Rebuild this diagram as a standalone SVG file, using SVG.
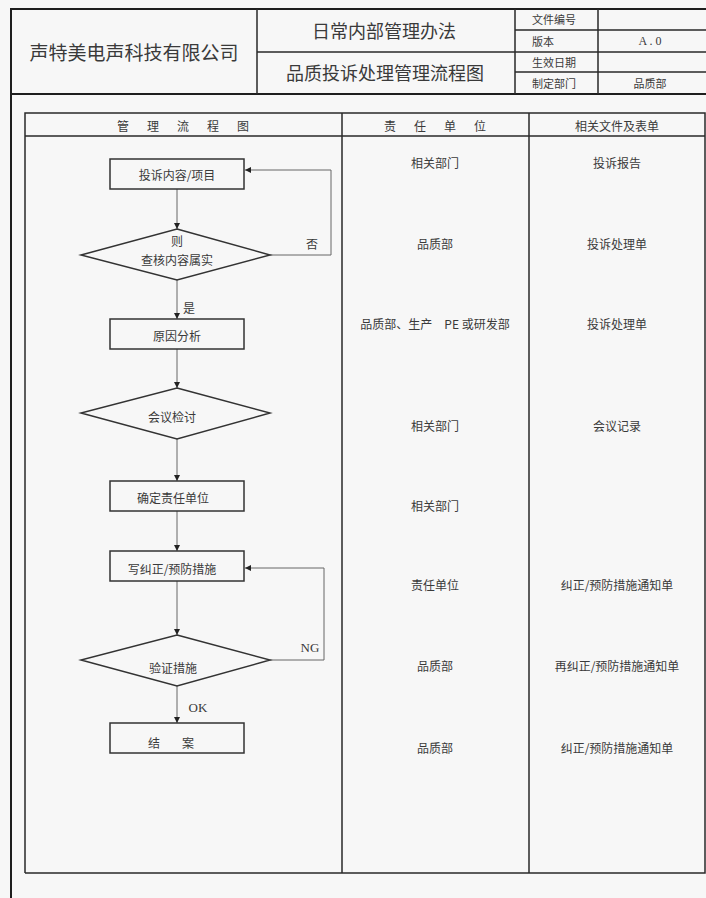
<svg xmlns="http://www.w3.org/2000/svg" width="706" height="898" viewBox="0 0 706 898">
<style>
.cjk{font-family:"Noto Sans CJK SC","Noto Sans",sans-serif;fill:#3a3a3a;text-anchor:middle;dominant-baseline:central}
.lat{font-family:"Liberation Serif","Noto Sans CJK SC",serif;fill:#3a3a3a;text-anchor:middle;dominant-baseline:central}
.frame{fill:none;stroke:#1e1e1e;stroke-width:2}
.grid{fill:none;stroke:#2a2a2a;stroke-width:1.5}
.node{fill:#f7f7f7;stroke:#333;stroke-width:1.5}
.conn{fill:none;stroke:#666;stroke-width:1}
.s12{font-size:12px}
.s11{font-size:11px}
</style>
<defs>
<marker id="ah" viewBox="0 0 10 10" refX="10" refY="5" markerWidth="6" markerHeight="6" orient="auto" markerUnits="userSpaceOnUse">
<path d="M0,0 L10,5 L0,10 z" fill="#222"/>
</marker>
</defs>
<rect x="0" y="0" width="706" height="898" fill="#f7f7f7"/>

<g id="header">
<path class="frame" d="M11,898 V9 H706"/>
<path class="frame" d="M11,94 H706"/>
<path class="grid" d="M257,9 V94 M515,9 V94 M598,9 V94 M257,52 H515 M515,30 H706 M515,52 H706 M515,72 H706"/>
<text class="cjk" x="134" y="51" font-size="19">声特美电声科技有限公司</text>
<text class="cjk" x="384" y="30" font-size="18">日常内部管理办法</text>
<text class="cjk" x="385" y="72" font-size="18">品质投诉处理管理流程图</text>
<text class="cjk s11" x="554" y="19">文件编号</text>
<text class="cjk s11" x="543" y="41">版本</text>
<text class="cjk s11" x="554" y="62">生效日期</text>
<text class="cjk s11" x="554" y="83">制定部门</text>
<text class="lat" x="650" y="41" font-size="12">A . 0</text>
<text class="cjk s11" x="650" y="83">品质部</text>
</g>

<g id="table">
<path class="grid" d="M25,873 V113 H705 V873 H25 M25,136 H705 M342,113 V873 M529,113 V873"/>
<text class="cjk s12" x="192" y="125" letter-spacing="18">管理流程图</text>
<text class="cjk s12" x="444" y="125" letter-spacing="18">责任单位</text>
<text class="cjk s12" x="617" y="125">相关文件及表单</text>
</g>

<g id="connectors">
<line class="conn" x1="177" y1="189" x2="177" y2="229" marker-end="url(#ah)"/>
<polyline class="conn" points="270,255 331,255 331,170 245,170" marker-end="url(#ah)"/>
<line class="conn" x1="177" y1="280" x2="177" y2="319" marker-end="url(#ah)"/>
<line class="conn" x1="177" y1="349" x2="177" y2="388" marker-end="url(#ah)"/>
<line class="conn" x1="177" y1="439" x2="177" y2="481" marker-end="url(#ah)"/>
<line class="conn" x1="177" y1="511" x2="177" y2="551" marker-end="url(#ah)"/>
<line class="conn" x1="177" y1="581" x2="177" y2="635" marker-end="url(#ah)"/>
<polyline class="conn" points="270,660 324,660 324,568 245,568" marker-end="url(#ah)"/>
<line class="conn" x1="177" y1="686" x2="177" y2="723" marker-end="url(#ah)"/>
<text class="cjk s12" x="312" y="243">否</text>
<text class="cjk s12" x="189" y="307">是</text>
<text class="lat" x="310" y="647" font-size="13">NG</text>
<text class="lat" x="198" y="707" font-size="13">OK</text>
</g>

<g id="n1">
<rect class="node" x="110" y="159" width="134" height="30"/>
<text class="cjk s12" x="177" y="174">投诉内容/项目</text>
</g>
<g id="n2">
<polygon class="node" points="177,229 270,255 177,280 81,255"/>
<text class="cjk s12" x="177" y="240" fill="#6a7080">则</text>
<text class="cjk s12" x="177" y="259">查核内容属实</text>
</g>
<g id="n3">
<rect class="node" x="110" y="319" width="134" height="30"/>
<text class="cjk s12" x="177" y="335">原因分析</text>
</g>
<g id="n4">
<polygon class="node" points="177,388 270,413 177,439 81,413"/>
<text class="cjk s12" x="172" y="416">会议检讨</text>
</g>
<g id="n5">
<rect class="node" x="110" y="481" width="134" height="30"/>
<text class="cjk s12" x="173" y="497">确定责任单位</text>
</g>
<g id="n6">
<rect class="node" x="110" y="551" width="134" height="30"/>
<text class="cjk s12" x="172" y="568">写纠正/预防措施</text>
</g>
<g id="n7">
<polygon class="node" points="177,635 270,660 177,686 81,660"/>
<text class="cjk s12" x="173" y="667">验证措施</text>
</g>
<g id="n8">
<rect class="node" x="110" y="723" width="134" height="30"/>
<text class="cjk s12" x="182" y="742" letter-spacing="22">结案</text>
</g>

<g id="responsible">
<text class="cjk s12" x="435" y="162">相关部门</text>
<text class="cjk s12" x="435" y="243">品质部</text>
<text class="cjk s12" x="435" y="323">品质部、生产　PE 或研发部</text>
<text class="cjk s12" x="435" y="425">相关部门</text>
<text class="cjk s12" x="435" y="505">相关部门</text>
<text class="cjk s12" x="435" y="584">责任单位</text>
<text class="cjk s12" x="435" y="665">品质部</text>
<text class="cjk s12" x="435" y="747">品质部</text>
</g>

<g id="documents">
<text class="cjk s12" x="617" y="162">投诉报告</text>
<text class="cjk s12" x="617" y="243">投诉处理单</text>
<text class="cjk s12" x="617" y="323">投诉处理单</text>
<text class="cjk s12" x="617" y="425">会议记录</text>
<text class="cjk s12" x="617" y="584">纠正/预防措施通知单</text>
<text class="cjk s12" x="617" y="665">再纠正/预防措施通知单</text>
<text class="cjk s12" x="617" y="747">纠正/预防措施通知单</text>
</g>
</svg>
